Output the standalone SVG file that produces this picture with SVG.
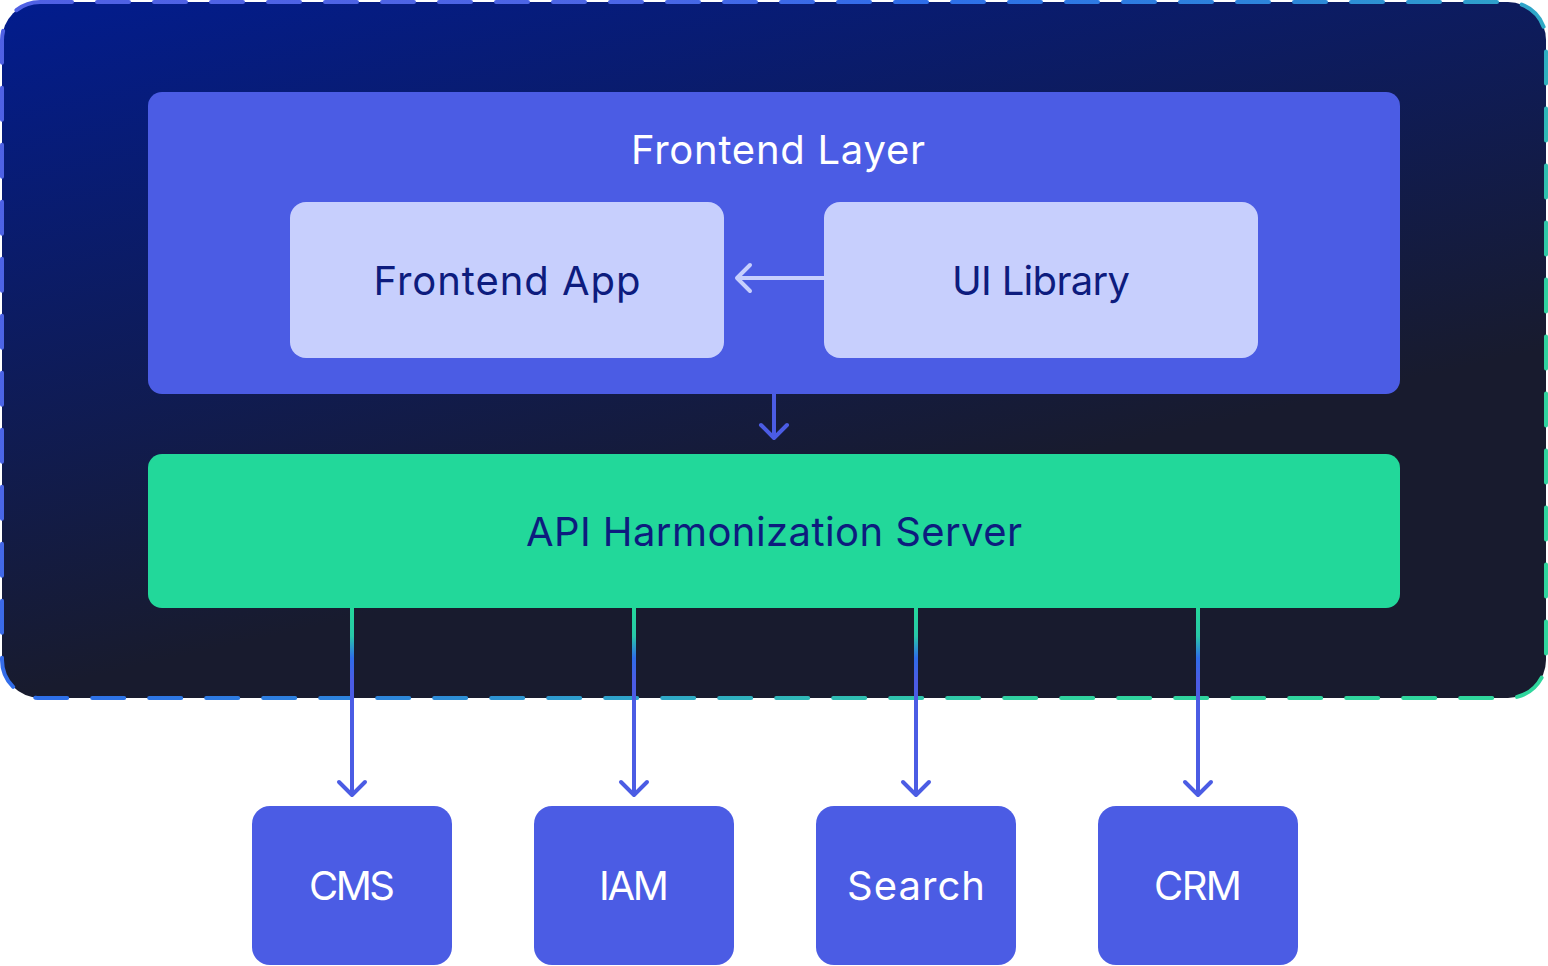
<svg xmlns="http://www.w3.org/2000/svg" width="1548" height="966" viewBox="0 0 1548 966">
  <style>
    .lbl { font-family: "Inter", "Liberation Sans", sans-serif; font-size: 40px; text-anchor: middle; }
    .light { fill: #ffffff; }
    .dark { fill: #0d1c7e; }
    .conn { fill: none; stroke-width: 4; }
    .head { fill: none; stroke-width: 4; stroke-linecap: round; stroke-linejoin: round; }
    .blue { stroke: #4b5ce4; }
    .pale { stroke: #c7cffd; }
  </style>
  <defs>
    <linearGradient id="bgFill" gradientUnits="userSpaceOnUse" x1="0" y1="0" x2="150" y2="664">
      <stop offset="0" stop-color="#021c8e"/>
      <stop offset="1" stop-color="#181b2e"/>
    </linearGradient>
    <linearGradient id="bgStroke" gradientUnits="userSpaceOnUse" x1="0" y1="0" x2="969" y2="1248">
      <stop offset="0" stop-color="#5060e4"/>
      <stop offset="0.25" stop-color="#4b66e6"/>
      <stop offset="0.36" stop-color="#2e6eea"/>
      <stop offset="0.5" stop-color="#2d86da"/>
      <stop offset="0.6" stop-color="#2fa6c8"/>
      <stop offset="0.75" stop-color="#30d29f"/>
      <stop offset="1" stop-color="#2fd89c"/>
    </linearGradient>
    <linearGradient id="connGrad" gradientUnits="userSpaceOnUse" x1="0" y1="608" x2="0" y2="708">
      <stop offset="0" stop-color="#24d89a"/>
      <stop offset="0.28" stop-color="#28c8a8"/>
      <stop offset="0.5" stop-color="#2f6ce8"/>
      <stop offset="0.72" stop-color="#4b5ce4"/>
      <stop offset="1" stop-color="#4b5ce4"/>
    </linearGradient>
  </defs>

  <g id="container">
    <rect x="2" y="2" width="1544" height="696" rx="38" fill="url(#bgFill)" stroke="url(#bgStroke)" stroke-width="4" stroke-dasharray="32 25" stroke-linecap="round"/>
  </g>

  <g id="frontend-layer">
    <rect x="148" y="92" width="1252" height="302" rx="14" fill="#4b5ce4"/>
    <text class="lbl light" x="778" y="164" textLength="294">Frontend Layer</text>
  </g>

  <g id="frontend-app">
    <rect x="290" y="202" width="434" height="156" rx="16" fill="#c7cffd"/>
    <text class="lbl dark" x="507" y="295" textLength="267">Frontend App</text>
  </g>

  <g id="ui-library">
    <rect x="824" y="202" width="434" height="156" rx="16" fill="#c7cffd"/>
    <text class="lbl dark" x="1041" y="295" textLength="178">UI Library</text>
  </g>

  <g id="api-server">
    <rect x="148" y="454" width="1252" height="154" rx="14" fill="#22d89a"/>
    <text class="lbl dark" x="774" y="546" textLength="496">API Harmonization Server</text>
  </g>

  <g id="cms">
    <rect x="252" y="806" width="200" height="159" rx="18" fill="#4b5ce4"/>
    <text class="lbl light" x="352" y="900" textLength="86">CMS</text>
  </g>
  <g id="iam">
    <rect x="534" y="806" width="200" height="159" rx="18" fill="#4b5ce4"/>
    <text class="lbl light" x="634" y="900" textLength="70">IAM</text>
  </g>
  <g id="search">
    <rect x="816" y="806" width="200" height="159" rx="18" fill="#4b5ce4"/>
    <text class="lbl light" x="916" y="900" textLength="138">Search</text>
  </g>
  <g id="crm">
    <rect x="1098" y="806" width="200" height="159" rx="18" fill="#4b5ce4"/>
    <text class="lbl light" x="1198" y="900" textLength="88">CRM</text>
  </g>

  <g id="connectors">
    <line class="conn pale" x1="824" y1="278" x2="737" y2="278"/>
    <path class="head pale" d="M750,265 L737,278 L750,291"/>
    <line class="conn blue" x1="774" y1="394" x2="774" y2="438"/>
    <path class="head blue" d="M761,425 L774,438 L787,425"/>
    <path class="conn" d="M352,608 V795" stroke="url(#connGrad)"/>
    <path class="head blue" d="M339,782 L352,795 L365,782"/>
    <path class="conn" d="M634,608 V795" stroke="url(#connGrad)"/>
    <path class="head blue" d="M621,782 L634,795 L647,782"/>
    <path class="conn" d="M916,608 V795" stroke="url(#connGrad)"/>
    <path class="head blue" d="M903,782 L916,795 L929,782"/>
    <path class="conn" d="M1198,608 V795" stroke="url(#connGrad)"/>
    <path class="head blue" d="M1185,782 L1198,795 L1211,782"/>
  </g>
</svg>
